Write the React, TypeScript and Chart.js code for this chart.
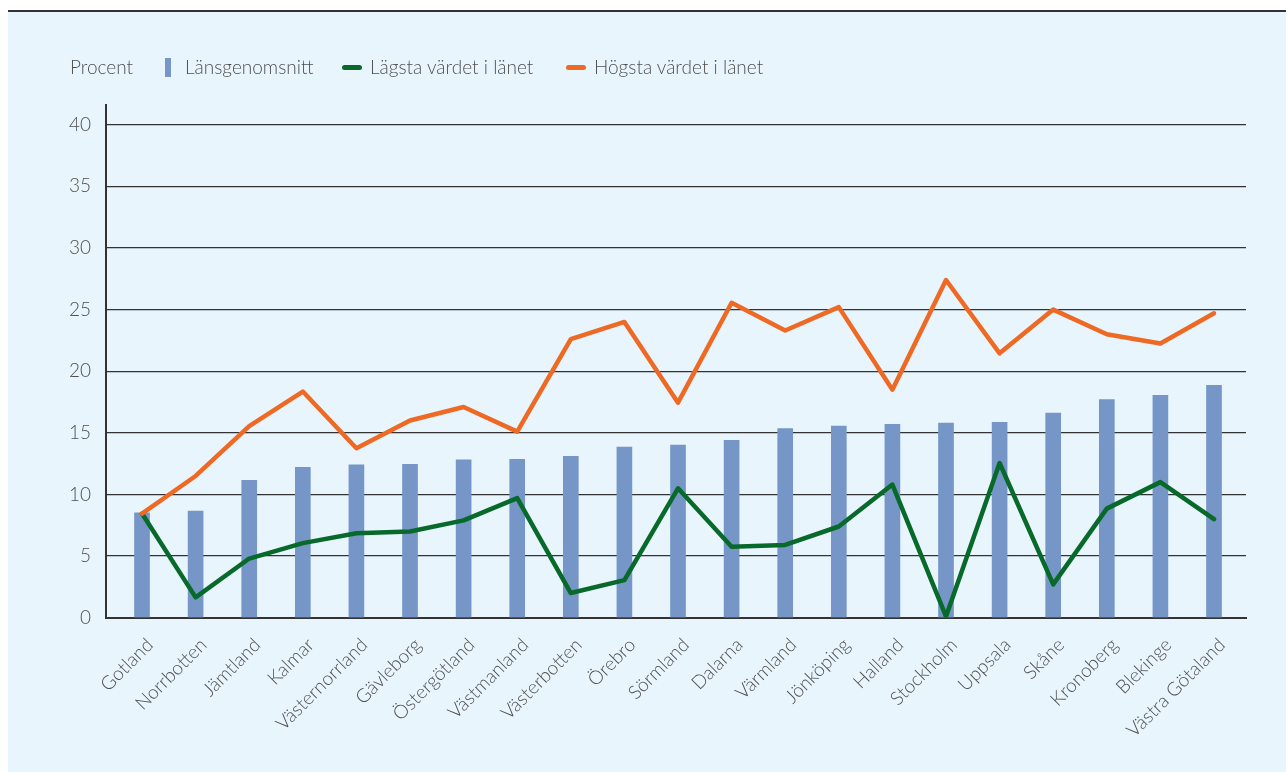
import React, { useEffect, useRef } from "react";
import { Chart, registerables } from "chart.js";

Chart.register(...registerables);

const categories = [
  "Gotland", "Norrbotten", "Jämtland", "Kalmar", "Västernorrland", "Gävleborg",
  "Östergötland", "Västmanland", "Västerbotten", "Örebro", "Sörmland", "Dalarna",
  "Värmland", "Jönköping", "Halland", "Stockholm", "Uppsala", "Skåne",
  "Kronoberg", "Blekinge", "Västra Götaland",
];

const average = [
  8.5, 8.65, 11.15, 12.2, 12.4, 12.45, 12.8, 12.85, 13.1, 13.85, 14.0,
  14.4, 15.35, 15.55, 15.7, 15.8, 15.85, 16.6, 17.7, 18.05, 18.85,
];

const lowest = [
  8.45, 1.65, 4.8, 6.05, 6.85, 7.0, 7.9, 9.7, 2.0, 3.05, 10.5,
  5.75, 5.9, 7.4, 10.8, 0.1, 12.55, 2.7, 8.85, 11.0, 8.0,
];

const highest = [
  8.45, 11.5, 15.55, 18.35, 13.75, 16.0, 17.1, 15.1, 22.6, 24.0, 17.45,
  25.55, 23.3, 25.2, 18.5, 27.4, 21.45, 25.0, 23.0, 22.25, 24.7,
];

const yTicks = [0, 5, 10, 15, 20, 25, 30, 35, 40];

const legendLabels = ["Länsgenomsnitt", "Lägsta värdet i länet", "Högsta värdet i länet"];
const yTitle = "Procent";

const BAR = "#7596c7";
const GREEN = "#086a2a";
const ORANGE = "#ee6a24";
const TEXT = "#505050";
const FONT = "Lato, 'Open Sans', sans-serif";

export default function App() {
  const ref = useRef<HTMLCanvasElement | null>(null);

  useEffect(() => {
    if (!ref.current) return;
    const toXY = (arr: number[]) => arr.map((v, i) => ({ x: i, y: v }));
    const chart = new Chart(ref.current, {
      type: "bar",
      data: {
        datasets: [
          {
            type: "line",
            label: legendLabels[2],
            data: toXY(highest),
            borderColor: ORANGE,
            backgroundColor: ORANGE,
            borderWidth: 4.5,
            pointRadius: 0,
            tension: 0,
            borderJoinStyle: "round",
            borderCapStyle: "round",
            order: 0,
          },
          {
            type: "line",
            label: legendLabels[1],
            data: toXY(lowest),
            borderColor: GREEN,
            backgroundColor: GREEN,
            borderWidth: 4.5,
            pointRadius: 0,
            tension: 0,
            borderJoinStyle: "round",
            borderCapStyle: "round",
            order: 1,
          },
          {
            type: "bar",
            label: legendLabels[0],
            data: toXY(average),
            backgroundColor: BAR,
            borderWidth: 0,
            barThickness: 15,
            order: 2,
          },
        ],
      } as any,
      options: {
        responsive: false,
        animation: false,
        layout: { padding: { top: 93, right: 40, left: 0, bottom: 0 } },
        plugins: {
          legend: { display: false },
          tooltip: { enabled: false },
          title: { display: false },
        },
        scales: {
          x: {
            type: "linear",
            min: -0.672,
            max: 20.597,
            offset: false,
            afterBuildTicks: (scale: any) => {
              scale.ticks = categories.map((_, i) => ({ value: i }));
            },
            afterFit: (scale: any) => {
              scale.height = 154.3;
            },
            ticks: {
              autoSkip: false,
              maxRotation: 45,
              minRotation: 45,
              padding: 16,
              labelOffset: 8,
              color: TEXT,
              font: { family: FONT, size: 19, weight: "300" },
              callback: (v: any) => categories[Math.round(Number(v))] ?? "",
            },
            grid: { display: false, drawTicks: false },
            border: { display: true, color: "#333333", width: 2 },
          },
          y: {
            type: "linear",
            min: 0,
            max: 41.6,
            afterBuildTicks: (scale: any) => {
              scale.ticks = yTicks.map((v) => ({ value: v }));
            },
            afterFit: (scale: any) => {
              scale.width = 98;
            },
            ticks: {
              padding: 15,
              color: TEXT,
              font: { family: FONT, size: 19, weight: "300" },
            },
            grid: {
              color: "#333333",
              lineWidth: 1.3,
              drawTicks: false,
            },
            border: { display: true, color: "#333333", width: 2 },
          },
        },
      } as any,
    });
    return () => chart.destroy();
  }, []);

  const legendText: React.CSSProperties = {
    position: "absolute",
    top: 56,
    fontFamily: FONT,
    fontWeight: 300,
    fontSize: 19,
    lineHeight: "22px",
    color: TEXT,
    whiteSpace: "nowrap",
  };

  return (
    <div style={{ position: "absolute", left: 0, top: 0, width: 1286, height: 772, overflow: "hidden" }}>
      <div style={{ position: "absolute", left: 8, top: 10, width: 1278, height: 2, background: "#333" }} />
      <div style={{ position: "absolute", left: 8, top: 12, width: 1278, height: 760, background: "#e9f5fd" }}>
        <canvas ref={ref} width={1278} height={760} style={{ display: "block" }} />
      </div>
      <div style={{ ...legendText, left: 70 }}>{yTitle}</div>
      <div style={{ position: "absolute", left: 165, top: 58, width: 6, height: 19, background: BAR }} />
      <div style={{ ...legendText, left: 185 }}>{legendLabels[0]}</div>
      <div style={{ position: "absolute", left: 342, top: 65, width: 20, height: 5, borderRadius: 3, background: GREEN }} />
      <div style={{ ...legendText, left: 370 }}>{legendLabels[1]}</div>
      <div style={{ position: "absolute", left: 566, top: 65, width: 20, height: 5, borderRadius: 3, background: ORANGE }} />
      <div style={{ ...legendText, left: 594 }}>{legendLabels[2]}</div>
    </div>
  );
}
